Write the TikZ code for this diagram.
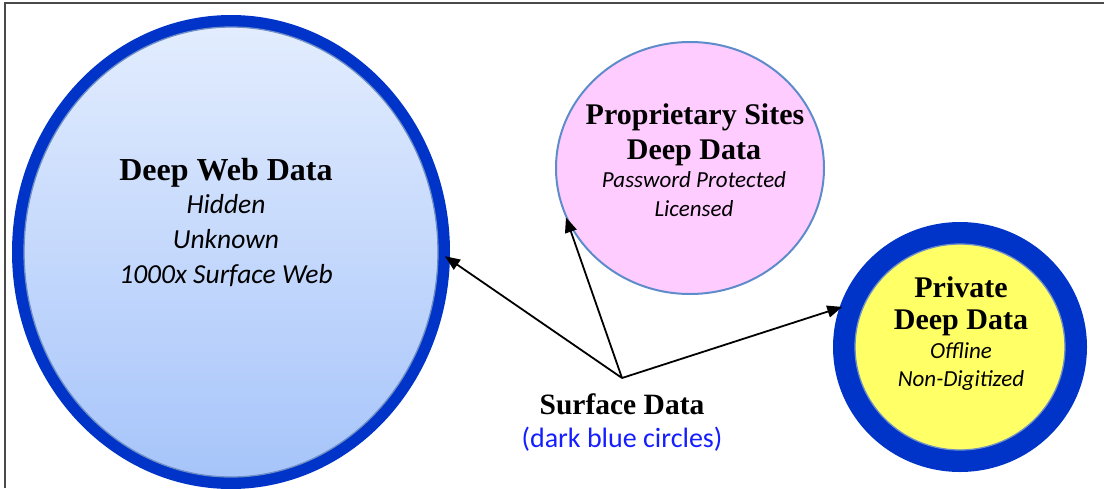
\documentclass[tikz,border=0pt]{standalone}
\usepackage{fontspec}
\setmainfont{Liberation Serif}
\newfontfamily\calibri{Carlito}
\usetikzlibrary{shapes.geometric,arrows.meta}

\definecolor{ringblue}{HTML}{0033C8}
\definecolor{steel}{HTML}{6E8EC6}
\definecolor{skytop}{HTML}{E3EDFE}
\definecolor{skybottom}{HTML}{A6C4FA}
\definecolor{pinkfill}{HTML}{FFCCFF}
\definecolor{pinkedge}{HTML}{5E8CCB}
\definecolor{yellowfill}{HTML}{FFFF66}
\definecolor{notegray}{HTML}{4A4A4A}
\definecolor{noteblue}{HTML}{141EFF}

\begin{document}
\begin{tikzpicture}[x=1pt,y=-1pt,
  bubble/.style={ellipse, inner sep=0pt},
  title/.style={anchor=base, inner sep=0pt, font=\bfseries\fontsize{#1}{#1}\selectfont},
  note/.style={anchor=base, inner sep=0pt, font=\calibri\itshape\fontsize{#1}{#1}\selectfont},
  pointer/.style={line width=1.8pt, -{Triangle[length=15pt,width=12pt]}}]

  \useasboundingbox (0,0) rectangle (1104,488);

  % frame
  \draw[notegray, line width=2pt] (5,488) -- (5,3) -- (1104,3);

  % deep web bubble
  \node[bubble, draw=ringblue, line width=12pt, top color=skytop, bottom color=skybottom,
        minimum width=426pt, minimum height=462pt] (deep) at (231,252) {};
  \draw[steel, line width=1.3pt] (deep.center) ellipse (207 and 225);

  % proprietary sites bubble
  \node[bubble, draw=pinkedge, line width=2pt, fill=pinkfill,
        minimum width=268pt, minimum height=252pt] (prop) at (690,168) {};

  % private data bubble
  \node[bubble, draw=ringblue, line width=22pt, fill=yellowfill,
        minimum width=232pt, minimum height=228pt] (priv) at (960,347) {};
  \draw[steel, line width=1.3pt] (priv.center) ellipse (105 and 103);

  % texts
  \node[title=32] (deept) at (226,180) {Deep Web Data};
  \node[note=27.5] (deep1) at (226,213) {Hidden};
  \node[note=27.5] (deep2) at (226,248) {Unknown};
  \node[note=27.5] (deep3) at (226,283) {1000x Surface Web};

  \node[title=30] (propt1) at (695,124) {Proprietary Sites};
  \node[title=30] (propt2) at (694,159) {Deep Data};
  \node[note=23] (prop1) at (694,187) {Password Protected};
  \node[note=23] (prop2) at (694,216) {Licensed};

  \node[title=30] (privt1) at (961,297) {Private};
  \node[title=30] (privt2) at (961,329) {Deep Data};
  \node[note=23] (priv1) at (961,358) {Offline};
  \node[note=23] (priv2) at (961,386) {Non-Digitized};

  \node[title=29.5] (surf) at (622,414) {Surface Data};
  \node[anchor=base, inner sep=0pt, text=noteblue, font=\calibri\fontsize{28}{28}\selectfont]
        (surfnote) at (622,447) {(dark blue circles)};

  % connectors
  \coordinate (src) at (622,378);
  \draw[pointer, shorten >=-6pt] (src) -- (deep.-2.7);
  \draw[pointer, shorten >=-3pt] (src) -- (prop.-157.1);
  \draw[pointer, shorten >=-3pt] (src) -- (priv.162.2);
\end{tikzpicture}
\end{document}
